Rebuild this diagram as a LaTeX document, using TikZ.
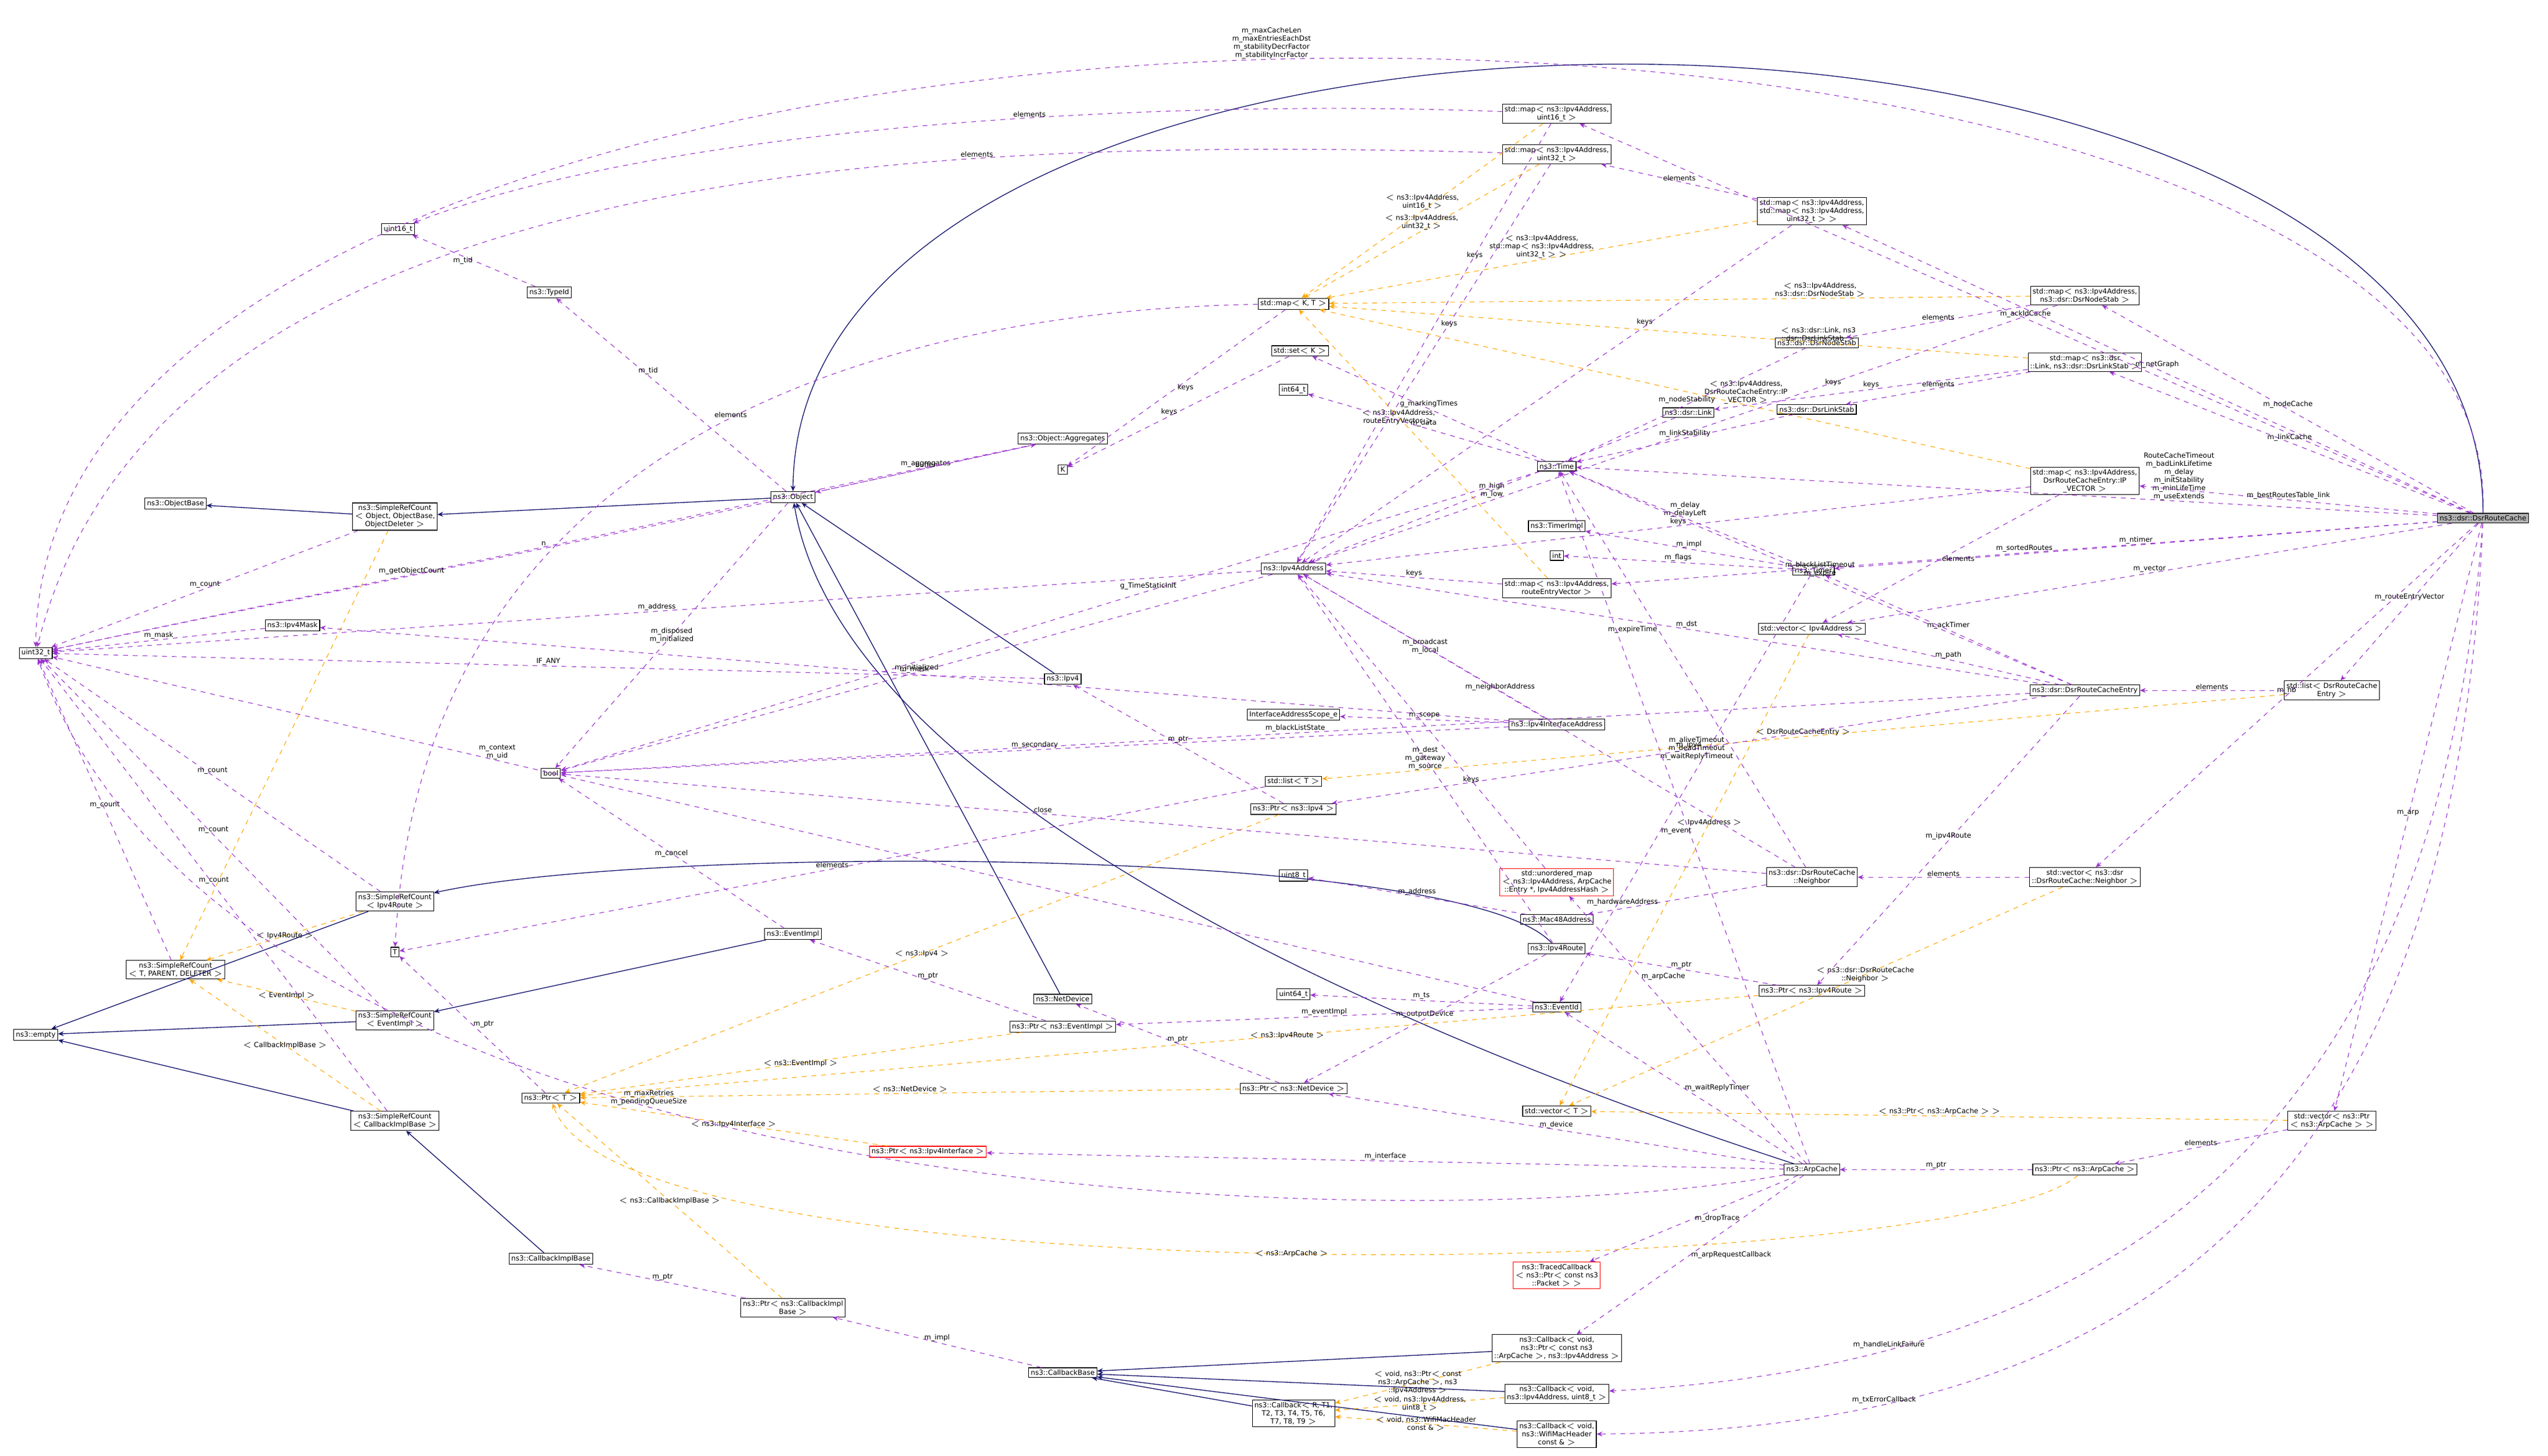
\documentclass[tikz,border=0pt]{standalone}
\usepackage{fontspec}
\setmainfont{DejaVu Sans}
\usetikzlibrary{arrows.meta}
\definecolor{usec}{HTML}{9A32CD}
\definecolor{inhc}{HTML}{191970}
\definecolor{tplc}{HTML}{FFA500}
\tikzset{
 cls/.style={draw, fill=white, font=\fontsize{4.3}{5}\selectfont, align=center, inner sep=1.3pt, line width=0.4pt},
 redcls/.style={cls, draw=red},
 lbl/.style={font=\fontsize{4.3}{5}\selectfont, align=center, inner sep=0.5pt, text=black},
 use/.style={usec, dashed, line width=0.4pt, -{Stealth[length=3.5pt,width=3pt]}},
 inh/.style={inhc, line width=0.5pt, -{Stealth[length=3.5pt,width=3pt]}},
 tpl/.style={tplc, dashed, line width=0.4pt, -{Stealth[length=3.5pt,width=3pt]}}
}
\begin{document}
\begin{tikzpicture}[x=1pt,y=-1pt]
\useasboundingbox (0,0) rectangle (1568,896);
\node[cls, fill=gray!60] (rc) at (1528,319) {ns3::dsr::DsrRouteCache};
\node[cls] (m16) at (958,70) {std::map$<$ ns3::Ipv4Address,\\uint16\_t $>$};
\node[cls] (m32) at (958,95) {std::map$<$ ns3::Ipv4Address,\\uint32\_t $>$};
\node[cls] (mm) at (1115,130) {std::map$<$ ns3::Ipv4Address,\\std::map$<$ ns3::Ipv4Address,\\uint32\_t $>$ $>$};
\node[cls] (mkt) at (796,187) {std::map$<$ K, T $>$};
\node[cls] (mns) at (1283,182) {std::map$<$ ns3::Ipv4Address,\\ns3::dsr::DsrNodeStab $>$};
\node[cls] (ns) at (1118,211) {ns3::dsr::DsrNodeStab};
\node[cls] (mls) at (1283,223) {std::map$<$ ns3::dsr\\::Link, ns3::dsr::DsrLinkStab $>$};
\node[cls] (setk) at (800,216) {std::set$<$ K $>$};
\node[cls] (i64) at (796,240) {int64\_t};
\node[cls] (link) at (1039,254) {ns3::dsr::Link};
\node[cls] (ls) at (1118,252) {ns3::dsr::DsrLinkStab};
\node[cls] (time) at (958,287) {ns3::Time};
\node[cls] (mip) at (1283,296) {std::map$<$ ns3::Ipv4Address,\\DsrRouteCacheEntry::IP\\\_VECTOR $>$};
\node[cls] (k) at (654,289) {K};
\node[cls] (agg) at (654,270) {ns3::Object::Aggregates};
\node[cls] (tid) at (338,180) {ns3::TypeId};
\node[cls] (u16) at (245,141) {uint16\_t};
\node[cls] (obj) at (488,306) {ns3::Object};
\node[cls] (ob) at (108,310) {ns3::ObjectBase};
\node[cls] (srco) at (243,318) {ns3::SimpleRefCount\\$<$ Object, ObjectBase,\\ObjectDeleter $>$};
\node[cls] (timpl) at (958,324) {ns3::TimerImpl};
\node[cls] (int) at (958,342) {int};
\node[cls] (ip) at (796,350) {ns3::Ipv4Address};
\node[cls] (timer) at (1116,351) {ns3::Timer};
\node[cls] (mrev) at (958,362) {std::map$<$ ns3::Ipv4Address,\\routeEntryVector $>$};
\node[cls] (vip) at (1115,387) {std::vector$<$ Ipv4Address $>$};
\node[cls] (mask) at (180,385) {ns3::Ipv4Mask};
\node[cls] (u32) at (22,402) {uint32\_t};
\node[cls] (rce) at (1283,425) {ns3::dsr::DsrRouteCacheEntry};
\node[cls] (lrce) at (1435,425) {std::list$<$ DsrRouteCache\\Entry $>$};
\node[cls] (ipv4) at (654,418) {ns3::Ipv4};
\node[cls] (scope) at (796,440) {InterfaceAddressScope\_e};
\node[cls] (iia) at (958,446) {ns3::Ipv4InterfaceAddress};
\node[cls] (bool) at (339,476) {bool};
\node[cls] (listt) at (796,481) {std::list$<$ T $>$};
\node[cls] (pipv4) at (796,498) {ns3::Ptr$<$ ns3::Ipv4 $>$};
\node[cls] (u8) at (796,539) {uint8\_t};
\node[redcls] (umap) at (958,543) {std::unordered\_map\\$<$ ns3::Ipv4Address, ArpCache\\::Entry *, Ipv4AddressHash $>$};
\node[cls] (nb) at (1115,540) {ns3::dsr::DsrRouteCache\\::Neighbor};
\node[cls] (vnb) at (1283,540) {std::vector$<$ ns3::dsr\\::DsrRouteCache::Neighbor $>$};
\node[cls] (srcr) at (243,555) {ns3::SimpleRefCount\\$<$ Ipv4Route $>$};
\node[cls] (mac) at (958,566) {ns3::Mac48Address};
\node[cls] (route) at (958,584) {ns3::Ipv4Route};
\node[cls] (t) at (243,586) {T};
\node[cls] (eimpl) at (488,575) {ns3::EventImpl};
\node[cls] (srct) at (108,597) {ns3::SimpleRefCount\\$<$ T, PARENT, DELETER $>$};
\node[cls] (proute) at (1115,610) {ns3::Ptr$<$ ns3::Ipv4Route $>$};
\node[cls] (empty) at (22,637) {ns3::empty};
\node[cls] (srce) at (243,628) {ns3::SimpleRefCount\\$<$ EventImpl $>$};
\node[cls] (nd) at (654,615) {ns3::NetDevice};
\node[cls] (u64) at (796,612) {uint64\_t};
\node[cls] (eid) at (958,620) {ns3::EventId};
\node[cls] (peimpl) at (654,632) {ns3::Ptr$<$ ns3::EventImpl $>$};
\node[cls] (pt) at (339,676) {ns3::Ptr$<$ T $>$};
\node[cls] (pnd) at (796,670) {ns3::Ptr$<$ ns3::NetDevice $>$};
\node[cls] (vt) at (958,684) {std::vector$<$ T $>$};
\node[cls] (srcc) at (243,690) {ns3::SimpleRefCount\\$<$ CallbackImplBase $>$};
\node[cls] (vparp) at (1435,690) {std::vector$<$ ns3::Ptr\\$<$ ns3::ArpCache $>$ $>$};
\node[redcls] (pif) at (571,709) {ns3::Ptr$<$ ns3::Ipv4Interface $>$};
\node[cls] (arp) at (1115,720) {ns3::ArpCache};
\node[cls] (parp) at (1283,720) {ns3::Ptr$<$ ns3::ArpCache $>$};
\node[cls] (cib) at (339,775) {ns3::CallbackImplBase};
\node[redcls] (tcb) at (958,785) {ns3::TracedCallback\\$<$ ns3::Ptr$<$ const ns3\\::Packet $>$ $>$};
\node[cls] (pcib) at (488,805) {ns3::Ptr$<$ ns3::CallbackImpl\\Base $>$};
\node[cls] (cba) at (958,830) {ns3::Callback$<$ void,\\ns3::Ptr$<$ const ns3\\::ArpCache $>$, ns3::Ipv4Address $>$};
\node[cls] (cbase) at (654,845) {ns3::CallbackBase};
\node[cls] (cbi) at (958,858) {ns3::Callback$<$ void,\\ns3::Ipv4Address, uint8\_t $>$};
\node[cls] (cbr) at (796,870) {ns3::Callback$<$ R, T1,\\T2, T3, T4, T5, T6,\\T7, T8, T9 $>$};
\node[cls] (cbw) at (958,883) {ns3::Callback$<$ void,\\ns3::WifiMacHeader\\const \& $>$};

% inheritance
\draw[inh] (rc.north) .. controls (1528,-50) and (490,-50) .. (obj.north);
\draw[inh] (obj) -- (srco);
\draw[inh] (srco) -- (ob);
\draw[inh] (ipv4) -- (obj);
\draw[inh] (nd) -- (obj);
\draw[inh] (arp) .. controls (900,650) and (520,500) .. (obj);
\draw[inh] (route) .. controls (900,520) and (400,520) .. (srcr);
\draw[inh] (eimpl) -- (srce);
\draw[inh] (cib) -- (srcc);
\draw[inh] (srcr) -- (empty);
\draw[inh] (srce) -- (empty);
\draw[inh] (srcc) -- (empty);
\draw[inh] (cba) -- (cbase);
\draw[inh] (cbi) -- (cbase);
\draw[inh] (cbr) -- (cbase);
\draw[inh] (cbw) -- (cbase);

% templates
\draw[tpl] (m16) -- node[lbl,above]{$<$ ns3::Ipv4Address,\\uint16\_t $>$} (mkt);
\draw[tpl] (m32) -- node[lbl,above]{$<$ ns3::Ipv4Address,\\uint32\_t $>$} (mkt);
\draw[tpl] (mm) -- node[lbl,above]{$<$ ns3::Ipv4Address,\\std::map$<$ ns3::Ipv4Address,\\uint32\_t $>$ $>$} (mkt);
\draw[tpl] (mns) -- node[lbl,above,pos=0.3]{$<$ ns3::Ipv4Address,\\ns3::dsr::DsrNodeStab $>$} (mkt);
\draw[tpl] (mls) -- node[lbl,above,pos=0.3]{$<$ ns3::dsr::Link, ns3\\::dsr::DsrLinkStab $>$} (mkt);
\draw[tpl] (mip) -- node[lbl,above,pos=0.4]{$<$ ns3::Ipv4Address,\\DsrRouteCacheEntry::IP\\\_VECTOR $>$} (mkt);
\draw[tpl] (mrev) -- node[lbl,pos=0.6]{$<$ ns3::Ipv4Address,\\routeEntryVector $>$} (mkt);
\draw[tpl] (vip) -- node[lbl,pos=0.4]{$<$ Ipv4Address $>$} (vt);
\draw[tpl] (lrce) -- node[lbl,above]{$<$ DsrRouteCacheEntry $>$} (listt);
\draw[tpl] (vnb) -- node[lbl,pos=0.4]{$<$ ns3::dsr::DsrRouteCache\\::Neighbor $>$} (vt);
\draw[tpl] (vparp) -- node[lbl,above]{$<$ ns3::Ptr$<$ ns3::ArpCache $>$ $>$} (vt);
\draw[tpl] (srco) -- (srct);
\draw[tpl] (srcr) -- node[lbl]{$<$ Ipv4Route $>$} (srct);
\draw[tpl] (srce) -- node[lbl]{$<$ EventImpl $>$} (srct);
\draw[tpl] (srcc) -- node[lbl]{$<$ CallbackImplBase $>$} (srct);
\draw[tpl] (pipv4) -- node[lbl]{$<$ ns3::Ipv4 $>$} (pt);
\draw[tpl] (peimpl) -- node[lbl]{$<$ ns3::EventImpl $>$} (pt);
\draw[tpl] (pnd) -- node[lbl,above]{$<$ ns3::NetDevice $>$} (pt);
\draw[tpl] (pif) -- node[lbl]{$<$ ns3::Ipv4Interface $>$} (pt);
\draw[tpl] (proute) -- node[lbl,pos=0.4]{$<$ ns3::Ipv4Route $>$} (pt);
\draw[tpl] (parp) .. controls (1200,790) and (380,800) .. node[lbl,pos=0.5]{$<$ ns3::ArpCache $>$} (pt);
\draw[tpl] (pcib) -- node[lbl]{$<$ ns3::CallbackImplBase $>$} (pt);
\draw[tpl] (cba) -- node[lbl]{$<$ void, ns3::Ptr$<$ const\\ns3::ArpCache $>$, ns3\\::Ipv4Address $>$} (cbr);
\draw[tpl] (cbi) -- node[lbl]{$<$ void, ns3::Ipv4Address,\\uint8\_t $>$} (cbr);
\draw[tpl] (cbw) -- node[lbl]{$<$ void, ns3::WifiMacHeader\\const \& $>$} (cbr);

% usage from route cache
\draw[use] (rc) -- node[lbl,above]{m\_ackIdCache} (m16);
\draw[use] (rc) -- node[lbl,above]{m\_netGraph} (mm);
\draw[use] (rc) -- node[lbl,above]{m\_nodeCache} (mns);
\draw[use] (rc) -- node[lbl,above]{m\_linkCache} (mls);
\draw[use] (rc) -- node[lbl,above,pos=0.3]{RouteCacheTimeout\\m\_badLinkLifetime\\m\_delay\\m\_initStability\\m\_minLifeTime\\m\_useExtends} (time);
\draw[use] (rc) -- node[lbl,above]{m\_bestRoutesTable\_link} (mip);
\draw[use] (rc) -- node[lbl,above]{m\_ntimer} (timer);
\draw[use] (rc) -- node[lbl,above]{m\_sortedRoutes} (mrev);
\draw[use] (rc) -- node[lbl,above]{m\_vector} (vip);
\draw[use] (rc) -- node[lbl,above]{m\_routeEntryVector} (lrce);
\draw[use] (rc) -- node[lbl,above]{m\_nb} (vnb);
\draw[use] (rc) -- node[lbl,above]{m\_arp} (vparp);
\draw[use] (rc) .. controls (1500,700) and (1300,840) .. node[lbl,above,pos=0.8]{m\_handleLinkFailure} (cbi);
\draw[use] (rc) .. controls (1510,750) and (1300,880) .. node[lbl,above,pos=0.8]{m\_txErrorCallback} (cbw);
\draw[use] (rc.north) .. controls (1545,-70) and (25,-70) .. node[lbl,above,pos=0.5]{m\_maxCacheLen\\m\_maxEntriesEachDst\\m\_stabilityDecrFactor\\m\_stabilityIncrFactor} (u32.north);

% other usage
\draw[use] (m16) .. controls (700,60) and (400,80) .. node[lbl,above,pos=0.4]{elements} (u16);
\draw[use] (m32) .. controls (600,85) and (100,90) .. node[lbl,above,pos=0.3]{elements} (u32);
\draw[use] (mm) -- node[lbl,above]{elements} (m32);
\draw[use] (mm) -- node[lbl,above,pos=0.3]{keys} (ip);
\draw[use] (m16) -- node[lbl,pos=0.3]{keys} (ip);
\draw[use] (m32) -- node[lbl,pos=0.4]{keys} (ip);
\draw[use] (mns) -- node[lbl,above]{elements} (ns);
\draw[use] (mns) -- node[lbl,pos=0.3]{keys} (ip);
\draw[use] (ns) -- node[lbl,above]{m\_nodeStability} (time);
\draw[use] (mls) -- node[lbl,above]{elements} (ls);
\draw[use] (mls) -- node[lbl,above]{keys} (link);
\draw[use] (ls) -- node[lbl,above]{m\_linkStability} (time);
\draw[use] (link) -- node[lbl]{m\_high\\m\_low} (ip);
\draw[use] (mip) -- node[lbl,right]{elements} (vip);
\draw[use] (mip) -- node[lbl,above]{keys} (ip);
\draw[use] (mrev) -- node[lbl,above]{keys} (ip);
\draw[use] (mkt) -- node[lbl,right]{keys} (k);
\draw[use] (mkt) .. controls (600,190) and (260,240) .. node[lbl,above]{elements} (t);
\draw[use] (setk) -- node[lbl,left]{keys} (k);
\draw[use] (time) -- node[lbl,above]{m\_data} (i64);
\draw[use] (time) -- node[lbl,above]{g\_markingTimes} (setk);
\draw[use] (time) -- node[lbl,above,pos=0.4]{g\_TimeStaticInit} (bool);
\draw[use] (timer) -- node[lbl,above]{m\_impl} (timpl);
\draw[use] (timer) -- node[lbl,above]{m\_flags} (int);
\draw[use] (timer) -- node[lbl,above]{m\_delay\\m\_delayLeft} (time);
\draw[use] (timer) -- node[lbl,right,pos=0.6]{m\_event} (eid);
\draw[use] (rce) -- node[lbl,above]{m\_path} (vip);
\draw[use] (rce) -- node[lbl,above]{m\_blackListTimeout\\m\_expire} (time);
\draw[use] (rce) -- node[lbl,above]{m\_dst} (ip);
\draw[use] (rce) -- node[lbl,above]{m\_ackTimer} (timer);
\draw[use] (rce) -- node[lbl,above]{m\_blackListState} (bool);
\draw[use] (rce) -- node[lbl,above]{m\_ipv4} (pipv4);
\draw[use] (rce) -- node[lbl,above]{m\_ipv4Route} (proute);
\draw[use] (lrce) -- node[lbl,above]{elements} (rce);
\draw[use] (obj) -- node[lbl,above,pos=0.6]{m\_tid} (tid);
\draw[use] (tid) -- node[lbl,left]{m\_tid} (u16);
\draw[use] (obj) -- node[lbl,above]{m\_aggregates} (agg);
\draw[use] (agg) -- node[lbl,above]{buffer} (obj);
\draw[use] (agg) -- node[lbl,above]{n} (u32);
\draw[use] (obj) -- node[lbl,above]{m\_getObjectCount} (u32);
\draw[use] (obj) -- node[lbl]{m\_disposed\\m\_initialized} (bool);
\draw[use] (srco) -- node[lbl,above]{m\_count} (u32);
\draw[use] (mask) -- node[lbl,above]{m\_mask} (u32);
\draw[use] (ip) -- node[lbl,above]{m\_address} (u32);
\draw[use] (ipv4) -- node[lbl,above]{IF\_ANY} (u32);
\draw[use] (ip) -- node[lbl,above]{m\_initialized} (bool);
\draw[use] (iia) -- node[lbl,above]{m\_mask} (mask);
\draw[use] (iia) -- node[lbl,above]{m\_scope} (scope);
\draw[use] (iia) -- node[lbl,above]{m\_secondary} (bool);
\draw[use] (iia) -- node[lbl]{m\_broadcast\\m\_local} (ip);
\draw[use] (pipv4) -- node[lbl,above]{m\_ptr} (ipv4);
\draw[use] (listt) -- node[lbl,above]{elements} (t);
\draw[use] (route) -- node[lbl]{m\_dest\\m\_gateway\\m\_source} (ip);
\draw[use] (route) -- node[lbl,above]{m\_outputDevice} (pnd);
\draw[use] (eimpl) -- node[lbl]{m\_cancel} (bool);
\draw[use] (srcr) -- node[lbl,above]{m\_count} (u32);
\draw[use] (srce) -- node[lbl,above]{m\_count} (u32);
\draw[use] (srcc) -- node[lbl,above]{m\_count} (u32);
\draw[use] (srct) -- node[lbl,above]{m\_count} (u32);
\draw[use] (pt) -- node[lbl,right]{m\_ptr} (t);
\draw[use] (eid) -- node[lbl,above]{m\_ts} (u64);
\draw[use] (eid) -- node[lbl,above]{m\_eventImpl} (peimpl);
\draw[use] (eid) -- node[lbl,above,pos=0.7]{m\_context\\m\_uid} (u32);
\draw[use] (peimpl) -- node[lbl,above]{m\_ptr} (eimpl);
\draw[use] (pnd) -- node[lbl,above]{m\_ptr} (nd);
\draw[use] (mac) -- node[lbl,above]{m\_address} (u8);
\draw[use] (umap) -- node[lbl,pos=0.3]{keys} (ip);
\draw[use] (nb) -- node[lbl,above,pos=0.6]{m\_neighborAddress} (ip);
\draw[use] (nb) -- node[lbl,left,pos=0.6]{m\_hardwareAddress} (mac);
\draw[use] (nb) -- node[lbl,left,pos=0.6]{m\_expireTime} (time);
\draw[use] (nb) -- node[lbl,above,pos=0.6]{close} (bool);
\draw[use] (vnb) -- node[lbl,above]{elements} (nb);
\draw[use] (proute) -- node[lbl,above]{m\_ptr} (route);
\draw[use] (arp) -- node[lbl,right,pos=0.6]{m\_aliveTimeout\\m\_deadTimeout\\m\_waitReplyTimeout} (time);
\draw[use] (arp) -- node[lbl,right,pos=0.7]{m\_arpCache} (umap);
\draw[use] (arp) -- node[lbl,right]{m\_waitReplyTimer} (eid);
\draw[use] (arp) -- node[lbl,above]{m\_device} (pnd);
\draw[use] (arp) -- node[lbl,above]{m\_interface} (pif);
\draw[use] (arp) -- node[lbl,right]{m\_dropTrace} (tcb);
\draw[use] (arp) -- node[lbl,right]{m\_arpRequestCallback} (cba);
\draw[use] (arp) .. controls (900,760) and (150,760) .. node[lbl,above,pos=0.6]{m\_maxRetries\\m\_pendingQueueSize} (u32);
\draw[use] (parp) -- node[lbl,above]{m\_ptr} (arp);
\draw[use] (vparp) -- node[lbl,above]{elements} (parp);
\draw[use] (cbase) -- node[lbl,above]{m\_impl} (pcib);
\draw[use] (pcib) -- node[lbl,above]{m\_ptr} (cib);
\end{tikzpicture}
\end{document}
